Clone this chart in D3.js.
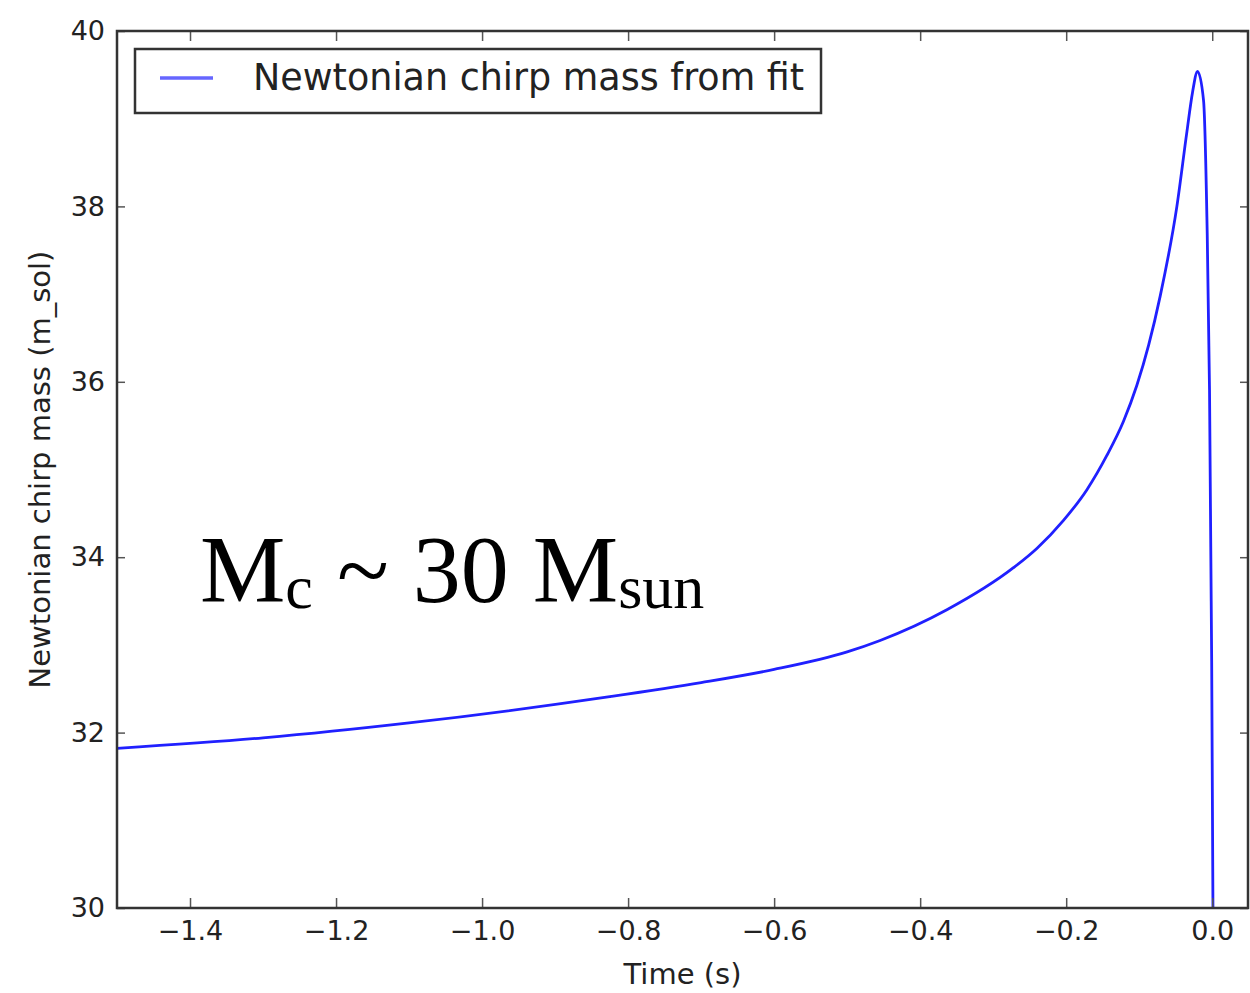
<!DOCTYPE html>
<html>
<head>
<meta charset="utf-8">
<script src="https://cdn.jsdelivr.net/npm/d3@7"></script>
<style>
  html, body { margin: 0; padding: 0; background: #fff; }
  svg { display: block; }
</style>
</head>
<body>
<svg id="chart" width="1250" height="993"></svg>
<script>
// Data
const times = [-1.5, -1.3, -1.1, -0.825, -0.7, -0.6, -0.5, -0.4548, -0.3634, -0.2722, -0.2402, -0.2037, -0.1716, -0.1443, -0.1215, -0.1032, -0.087, -0.0712, -0.0484, -0.0347, -0.027, -0.0201, -0.0119, -0.0073, -0.0037, -0.0014, 0.001, 0.0013];
const chirpMass = [31.82, 31.94, 32.11, 32.41, 32.57, 32.72, 32.92, 33.05, 33.40, 33.88, 34.10, 34.42, 34.77, 35.16, 35.55, 35.96, 36.42, 36.98, 38.00, 38.85, 39.30, 39.54, 39.21, 37.88, 35.91, 33.50, 30.0, 29.0];
const xTicks = [-1.4, -1.2, -1.0, -0.8, -0.6, -0.4, -0.2, 0.0];
const yTicks = [30, 32, 34, 36, 38, 40];
const xDomain = [-1.5, 0.049];
const yDomain = [30, 40];
const seriesLabel = "Newtonian chirp mass from fit";
const xLabel = "Time (s)";
const yLabel = "Newtonian chirp mass (m_sol)";

const svg = d3.select("#chart");
const L = 117, R = 1248, T = 31, B = 908;
const x = d3.scaleLinear().domain(xDomain).range([L, R]);
const y = d3.scaleLinear().domain(yDomain).range([B, T]);

const fontSans = "'DejaVu Sans', sans-serif";
const axisColor = "#333";
const textColor = "#222";

svg.append("defs").append("clipPath").attr("id", "plotclip")
  .append("rect").attr("x", L).attr("y", T).attr("width", R - L).attr("height", B - T);

// Curve
const data = times.map((t, i) => ({t, v: chirpMass[i]}));
const line = d3.line().x(d => x(d.t)).y(d => y(d.v)).curve(d3.curveMonotoneX);
svg.append("path").datum(data)
  .attr("clip-path", "url(#plotclip)")
  .attr("d", line)
  .attr("fill", "none")
  .attr("stroke", "#2020ff")
  .attr("stroke-width", 2.8);

// Axes
const fmtX = d3.format(".1f");
function styleAxis(g, showLabels) {
  g.select(".domain").remove();
  g.selectAll(".tick line").attr("stroke", "#555").attr("stroke-width", 1.5);
  g.selectAll(".tick text")
    .attr("fill", textColor)
    .style("font-family", fontSans)
    .style("font-size", "27px");
  if (!showLabels) g.selectAll(".tick text").remove();
}
svg.append("g").attr("transform", `translate(0,${B})`)
  .call(d3.axisBottom(x).tickValues(xTicks).tickFormat(fmtX).tickSize(-10).tickPadding(13))
  .call(g => styleAxis(g, true));
svg.append("g").attr("transform", `translate(0,${T})`)
  .call(d3.axisTop(x).tickValues(xTicks).tickSize(-10))
  .call(g => styleAxis(g, false));
svg.append("g").attr("transform", `translate(${L},0)`)
  .call(d3.axisLeft(y).tickValues(yTicks).tickFormat(d3.format("d")).tickSize(-8).tickPadding(12))
  .call(g => styleAxis(g, true));
svg.append("g").attr("transform", `translate(${R},0)`)
  .call(d3.axisRight(y).tickValues(yTicks).tickSize(-8))
  .call(g => styleAxis(g, false));

// Frame
svg.append("rect").attr("x", L).attr("y", T).attr("width", R - L).attr("height", B - T)
  .attr("fill", "none").attr("stroke", axisColor).attr("stroke-width", 2.5);

// Axis labels
svg.append("text").attr("x", (L + R) / 2).attr("y", 984)
  .attr("text-anchor", "middle").attr("fill", textColor)
  .style("font-family", fontSans).style("font-size", "29px").text(xLabel);
svg.append("text").attr("transform", `translate(50,${(T + B) / 2}) rotate(-90)`)
  .attr("text-anchor", "middle").attr("fill", textColor)
  .style("font-family", fontSans).style("font-size", "29px").text(yLabel);

// Legend
const lg = svg.append("g");
lg.append("rect").attr("x", 135).attr("y", 49).attr("width", 686).attr("height", 64)
  .attr("fill", "#fff").attr("stroke", axisColor).attr("stroke-width", 2.5);
lg.append("line").attr("x1", 160).attr("x2", 213).attr("y1", 78).attr("y2", 78)
  .attr("stroke", "#6666ff").attr("stroke-width", 3.5);
lg.append("text").attr("x", 253).attr("y", 90).attr("fill", textColor)
  .style("font-family", fontSans).style("font-size", "36.5px").text(seriesLabel);

// Annotation
const ann = svg.append("text").attr("x", 200).attr("y", 602).attr("fill", "#000")
  .style("font-family", "'Liberation Serif', 'Times New Roman', serif").style("font-size", "96px");
ann.append("tspan").text("M");
ann.append("tspan").attr("dy", 6).style("font-size", "62px").text("c");
ann.append("tspan").attr("dy", -6).text(" ~ 30 M");
ann.append("tspan").attr("dy", 6).style("font-size", "62px").text("sun");
</script>
</body>
</html>
